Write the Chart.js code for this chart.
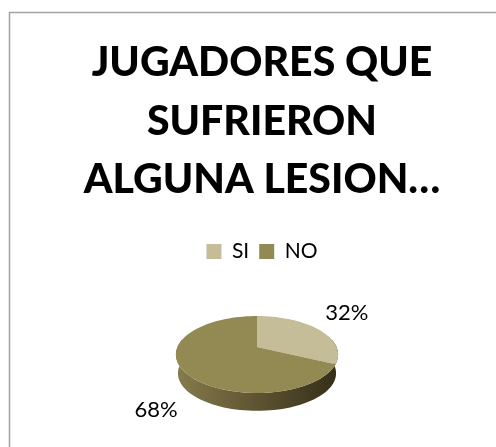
<!DOCTYPE html>
<html>
<head>
<meta charset="utf-8">
<style>html,body{margin:0;padding:0;background:#fff}canvas{display:block}</style>
<script src="https://cdn.jsdelivr.net/npm/chart.js@4"></script>
</head>
<body>
<canvas id="chart" width="496" height="447"></canvas>
<script>
const categories = ['SI', 'NO'];
const percentages = [32, 68];
const sliceColors = ['#C4BD97', '#938953'];
const titleLines = ['JUGADORES QUE', 'SUFRIERON', 'ALGUNA LESION…'];

// Shape of the tilted disc, relative to the pie radius.
const TILT = { width: 0.982, height: 0.457, perspective: -0.195, depth: 19, shiftX: -5, floorScale: 0.975 };
// Offsets of the percentage labels from the rim midpoint of each slice.
const LABEL_OFFSETS = [[29, -16], [-26, 41]];

// Projects a point of the flat disc at a given angle on to the tilted one.
function project(el, angle, dy = 0, scale = 1) {
  const u = Math.cos(angle), v = Math.sin(angle);
  const d = 1 + TILT.perspective * v;
  const r = el.outerRadius * scale;
  return [
    el.x + TILT.shiftX + r * TILT.width * u / d,
    el.y + dy + r * TILT.height * v / d
  ];
}

const framePlugin = {
  id: 'frame',
  beforeDraw(chart) {
    const c = chart.ctx;
    c.save();
    c.strokeStyle = '#a3a3a3';
    c.lineWidth = 1.5;
    c.beginPath();
    c.moveTo(9.5, chart.height);
    c.lineTo(9.5, 12.5);
    c.lineTo(chart.width, 12.5);
    c.stroke();
    c.restore();
  }
};

const tiltedPiePlugin = {
  id: 'tiltedPie',
  beforeDatasetDraw(chart, args) {
    const c = chart.ctx;
    const arcs = args.meta.data;
    const first = arcs[0];
    const rad = Math.PI / 180;

    // Rim of the disc: the part that faces the viewer.
    const from = -12 * rad, to = 192 * rad, steps = 80;
    const left = project(first, Math.PI)[0], right = project(first, 0)[0];
    const side = c.createLinearGradient(left, 0, right, 0);
    side.addColorStop(0, '#857b4d');
    side.addColorStop(0.35, '#6a5f39');
    side.addColorStop(0.7, '#4d4528');
    side.addColorStop(1, '#352f18');
    c.beginPath();
    for (let i = 0; i <= steps; i++) {
      const p = project(first, from + (to - from) * i / steps);
      i ? c.lineTo(p[0], p[1]) : c.moveTo(p[0], p[1]);
    }
    for (let i = steps; i >= 0; i--) {
      const p = project(first, from + (to - from) * i / steps, TILT.depth, TILT.floorScale);
      c.lineTo(p[0], p[1]);
    }
    c.closePath();
    c.fillStyle = side;
    c.fill();

    // Top face of every slice, taken from the arc elements' own angles.
    arcs.forEach(el => {
      const apexX = el.x + TILT.shiftX;
      const n = 80;
      c.beginPath();
      c.moveTo(apexX, el.y);
      for (let i = 0; i <= n; i++) {
        const p = project(el, el.startAngle + (el.endAngle - el.startAngle) * i / n);
        c.lineTo(p[0], p[1]);
      }
      c.closePath();
      c.fillStyle = el.options.backgroundColor;
      c.fill();
    });

    // Percentage labels.
    c.save();
    c.font = '22px Lato';
    c.fillStyle = '#000';
    c.textAlign = 'center';
    c.textBaseline = 'middle';
    arcs.forEach((el, i) => {
      const p = project(el, (el.startAngle + el.endAngle) / 2);
      c.fillText(percentages[i] + '%', p[0] + LABEL_OFFSETS[i][0], p[1] + LABEL_OFFSETS[i][1]);
    });
    c.restore();
    return false;
  }
};

new Chart(document.getElementById('chart'), {
  type: 'pie',
  data: {
    labels: categories,
    datasets: [{ data: percentages, backgroundColor: sliceColors, borderWidth: 0, radius: 81 }]
  },
  plugins: [framePlugin, tiltedPiePlugin],
  options: {
    responsive: false,
    animation: false,
    layout: { padding: { left: 28, right: 0, top: 0, bottom: 25 } },
    plugins: {
      tooltip: { enabled: false },
      title: {
        display: true,
        text: titleLines,
        color: '#000',
        font: { family: 'Lato', size: 41, weight: '900', lineHeight: 1.427 },
        padding: { top: 34, bottom: 21.5 }
      },
      legend: {
        position: 'top',
        labels: {
          color: '#000',
          boxWidth: 15,
          boxHeight: 15,
          padding: 10,
          font: { family: 'Lato', size: 21 }
        }
      }
    }
  }
});
</script>
</body>
</html>
